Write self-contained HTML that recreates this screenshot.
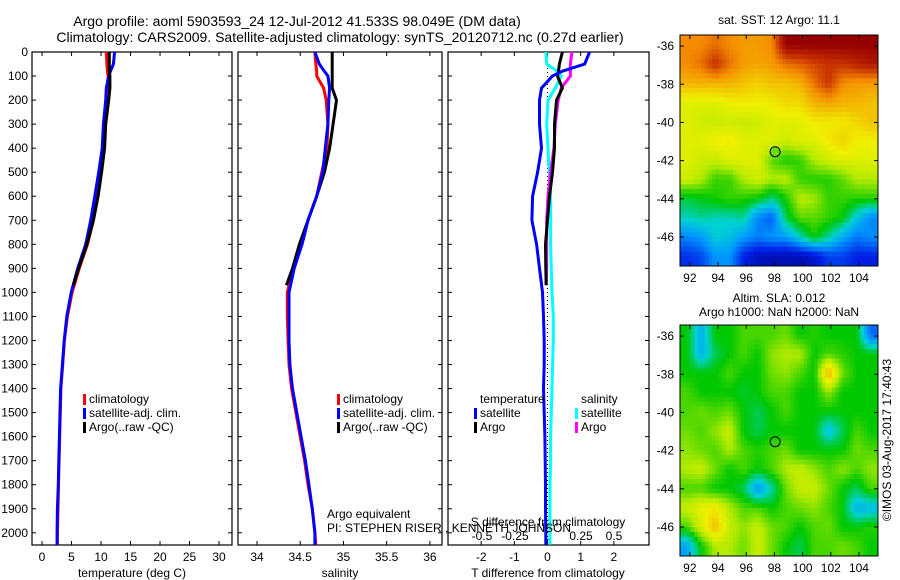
<!DOCTYPE html>
<html><head><meta charset="utf-8"><style>
html,body{margin:0;padding:0;background:#fff}
svg{display:block;font-family:"Liberation Sans",sans-serif}
text{fill:#000}
</style></head><body>
<svg id="c" width="900" height="580" viewBox="0 0 900 580">
<text x="297" y="26" font-size="14" text-anchor="middle">Argo profile: aoml 5903593_24 12-Jul-2012 41.533S 98.049E (DM data)</text>
<text x="340" y="42" font-size="14" text-anchor="middle">Climatology: CARS2009. Satellite-adjusted climatology: synTS_20120712.nc (0.27d earlier)</text>
<g id="plots"></g>
<text x="327" y="518" font-size="12">Argo equivalent</text>
<text x="327" y="532" font-size="12">PI: STEPHEN RISER , KENNETH JOHNSON</text>
<text x="779" y="24" font-size="12" text-anchor="middle">sat. SST: 12 Argo: 11.1</text>
<text x="779" y="302" font-size="12" text-anchor="middle">Altim. SLA: 0.012</text>
<text x="779" y="316" font-size="12" text-anchor="middle">Argo h1000: NaN h2000: NaN</text>
<text x="0" y="0" font-size="12" text-anchor="middle" transform="translate(891,440) rotate(-90)">©IMOS 03-Aug-2017 17:40:43</text>
</svg>
<script>
const depths=[0,50,80,100,150,200,300,400,500,600,700,800,900,1000,1100,1200,1300,1400,1500,1600,1700,1800,1900,2000,2050];
const argoDepths=[0,50,80,100,150,200,300,400,500,600,700,800,900,970];
const tClim=[10.9,11.0,11.1,11.2,11.1,11.0,10.6,10.4,9.9,9.4,8.7,7.7,6.3,5.1,4.3,3.8,3.5,3.2,3.1,3.0,2.9,2.8,2.7,2.6,2.6];
const tSat=[12.3,12.1,11.6,11.3,10.9,10.8,10.4,10.2,9.6,8.95,8.25,7.4,6.05,4.95,4.2,3.75,3.45,3.15,3.05,2.95,2.85,2.75,2.6,2.55,2.55];
const tArgo=[11.4,11.4,11.4,11.5,11.5,11.3,10.8,10.6,10.1,9.5,8.7,7.6,6.2,5.3];
const sClim=[34.67,34.68,34.69,34.69,34.77,34.80,34.82,34.81,34.75,34.69,34.59,34.52,34.42,34.35,34.35,34.36,34.37,34.40,34.45,34.50,34.55,34.59,34.64,34.67,34.68];
const sSat=[34.67,34.72,34.78,34.82,34.84,34.83,34.82,34.79,34.76,34.69,34.59,34.52,34.43,34.37,34.37,34.37,34.38,34.41,34.46,34.51,34.56,34.60,34.64,34.67,34.67];
const sArgo=[34.87,34.87,34.87,34.87,34.87,34.92,34.88,34.84,34.78,34.69,34.59,34.49,34.41,34.34];
const dTsat=[1.27,1.12,0.45,0.15,-0.18,-0.24,-0.24,-0.18,-0.3,-0.45,-0.47,-0.33,-0.24,-0.15,-0.12,-0.1,-0.1,-0.12,-0.1,-0.08,-0.07,-0.06,-0.06,-0.05,-0.05];
const dSsat=[-0.015,-0.01,0.07,0.1,0.055,0.0,-0.01,0.0,0.01,0.02,0.02,0.02,0.025,0.03,0.04,0.04,0.035,0.03,0.025,0.02,0.02,0.015,0.015,0.015,0.015];
const dTargo=[0.45,0.36,0.33,0.3,0.45,0.27,0.21,0.21,0.15,0.06,0.0,-0.06,-0.05,-0.04];
const dSargo=[0.18,0.17,0.17,0.17,0.1,0.077,0.055,0.045,0.02,0.0,-0.01,-0.01,-0.01,-0.015];
const depthTicks=[0,100,200,300,400,500,600,700,800,900,1000,1100,1200,1300,1400,1500,1600,1700,1800,1900,2000];
const tTicks=[0,5,10,15,20,25,30];
const sTicks=[34,34.5,35,35.5,36];
const dTTicks=[-2,-1,0,1,2];
const dSTicks=["-0.5","-0.25","0","0.25","0.5"];
const lonTicks=[92,94,96,98,100,102,104];
const latTicks=[-36,-38,-40,-42,-44,-46];
const sstGrid=[
[13.5,13.5,13.8,13.5,13.3,13.3,13.5,15.5,15.5,15.5,15.5,15.5,15.5,15.5],
[13.5,13.8,14.6,13.8,13.3,13.2,13.3,13.8,14.0,14.3,14.5,14.5,14.8,15.0],
[13.0,13.0,13.0,13.0,12.8,12.6,12.8,12.8,13.0,13.8,14.5,13.5,13.3,13.3],
[12.0,12.0,12.0,12.2,12.3,12.2,12.3,12.5,12.5,13.0,13.2,13.0,13.0,12.8],
[12.0,11.8,11.7,11.8,11.7,11.8,12.0,12.0,12.0,12.3,12.3,12.3,12.5,12.8],
[12.0,12.0,12.2,12.3,12.0,12.0,12.0,11.8,12.0,12.0,12.3,12.6,12.2,12.2],
[12.0,11.8,11.7,12.0,12.0,12.0,11.0,10.6,10.8,11.5,11.8,12.0,12.0,12.0],
[11.8,11.5,10.8,10.8,11.5,11.8,11.5,11.6,10.8,10.7,10.7,11.0,11.5,11.5],
[10.2,10.4,10.6,10.8,10.7,10.5,9.9,10.6,11.6,11.4,10.8,10.8,10.7,10.7],
[9.6,9.8,9.6,9.6,9.8,8.3,7.8,10.2,11.0,11.0,10.8,10.5,9.3,8.3],
[8.3,8.6,9.4,9.2,8.6,8.2,8.5,8.6,9.6,10.6,9.8,8.8,8.1,8.4],
[7.2,7.5,8.5,8.5,7.0,6.4,6.3,6.3,6.3,6.6,7.4,7.4,7.0,7.0]];
const slaGrid=[
[0,-0.08,0,0,0.02,0.02,0.02,0.03,0,0.01,0,0,0,-0.13],
[0,-0.08,-0.02,0,0.02,0,0.04,0.05,0.05,0,0.02,0.01,0,0],
[0,0,0,0.02,0,0,0.03,0.04,0.02,0,0.13,0.03,0,0],
[0.02,0,0,0,-0.01,0,0.02,0.02,0,0,0.04,0,0,0],
[0.02,0.03,0.02,0.03,0,-0.02,0,0.02,0,0,0,0,0,0],
[0.03,0.02,0.04,0.06,0,-0.02,0,0,0,0,-0.07,-0.02,0.02,0],
[0.04,0.03,0.02,0.05,0.02,0.01,0.02,0.03,0,0,0,0,0.03,0.02],
[0.05,0.06,0.03,0,0.02,0,0.02,0.05,0.06,0.04,0.02,0.04,0.02,0.04],
[0.02,0.02,0,0,-0.02,-0.1,-0.04,0.03,0.06,0.06,0.03,0,-0.02,0.02],
[0.06,0.08,0.09,0.05,0.02,0.02,0,0.02,0.03,0.04,0.02,0,-0.08,-0.07],
[0.02,0.07,0.12,0.06,0.04,0.06,0.03,0.02,0,0.02,0.03,0,0,0.01],
[-0.09,0,0.05,0.05,0.03,0.06,0.03,0,-0.02,0.02,0.02,0.03,0.02,0]];
const argoLon=98.049, argoLat=-41.533;

const NS="http://www.w3.org/2000/svg";
const root=document.getElementById('plots');
function mk(tag,attrs,parent){const e=document.createElementNS(NS,tag);for(const k in attrs)e.setAttribute(k,attrs[k]);(parent||root).appendChild(e);return e;}
function txt(x,y,s,size,anchor,parent){const t=mk('text',{x:x,y:y,'font-size':size,'text-anchor':anchor||'start'},parent);t.textContent=s;return t;}

const PT=52,PB=545;
const yD=d=>PT+d*0.2404;
const panels=[{x0:32,x1:232,vmin:-1.7,vmax:32.2,name:'temperature-panel'},{x0:238,x1:442,vmin:33.78,vmax:36.14,name:'salinity-panel'},{x0:448,x1:649,vmin:-3.0,vmax:3.06,name:'difference-panel'}];
function sx(p,v){return p.x0+(v-p.vmin)/(p.vmax-p.vmin)*(p.x1-p.x0);}
const xT=v=>sx(panels[0],v), xS=v=>sx(panels[1],v), xDT=v=>sx(panels[2],v), xDS=v=>548+v*132;

panels.forEach((p,i)=>{
  const g=mk('g',{});
  
  
  const r=mk('rect',{x:p.x0,y:PT,width:p.x1-p.x0,height:PB-PT,fill:'none',stroke:'#000','stroke-width':1.2},g);
  
  
  depthTicks.forEach(d=>{
    mk('line',{x1:p.x0,x2:p.x0+4,y1:yD(d),y2:yD(d),stroke:'#000'},g);
    mk('line',{x1:p.x1,x2:p.x1-4,y1:yD(d),y2:yD(d),stroke:'#000'},g);
  });
});
depthTicks.forEach(d=>{const t=txt(28,yD(d)+4,String(d),12,'end');});
function xticks(p,ticks,fx){ticks.forEach(v=>{const x=fx(v);mk('line',{x1:x,x2:x,y1:PB,y2:PB-4,stroke:'#000'});mk('line',{x1:x,x2:x,y1:PT,y2:PT+4,stroke:'#000'});const t=txt(x,561,String(v),12,'middle');});}
xticks(panels[0],tTicks,xT);xticks(panels[1],sTicks,xS);xticks(panels[2],dTTicks,xDT);
dSTicks.forEach(v=>{const t=txt(xDS(parseFloat(v)),540,v,12,'middle');});
[['temperature (deg C)',132,'temperature-axis-title'],['salinity',340,'salinity-axis-title'],['T difference from climatology',548,'t-diff-axis-title']].forEach(a=>{const t=txt(a[1],577,a[0],12,'middle');});
const sdt=txt(548,526,'S difference from climatology',12,'middle');



const zl=mk('line',{x1:xDT(0),x2:xDT(0),y1:PT,y2:PB,stroke:'#000','stroke-dasharray':'1,3'});



function series(vals,ds,fx,color,name){
  const pts=vals.map((v,i)=>fx(v).toFixed(1)+','+yD(ds[i]).toFixed(1)).join(' ');
  const l=mk('polyline',{points:pts,fill:'none',stroke:color,'stroke-width':3,'stroke-linejoin':'miter'});
  
  
}
series(tClim,depths,xT,'#f00','temp-climatology-line');
series(tSat,depths,xT,'#00f','temp-satellite-line');
series(tArgo,argoDepths,xT,'#000','temp-argo-line');
series(sClim,depths,xS,'#f00','sal-climatology-line');
series(sArgo,argoDepths,xS,'#000','sal-argo-line');
series(sSat,depths,xS,'#00f','sal-satellite-line');
series(dSsat,depths,xDS,'#0ff','sdiff-satellite-line');
series(dSargo,argoDepths,xDS,'#f0f','sdiff-argo-line');
series(dTargo,argoDepths,xDT,'#000','tdiff-argo-line');
series(dTsat,depths,xDT,'#00f','tdiff-satellite-line');

function legend(x,y,items){items.forEach((it,i)=>{const g=mk('g',{});if(it[1])mk('rect',{x:x,y:y+i*14-9,width:3,height:11,fill:it[1]},g);txt(x+6,y+i*14,it[0],12,'start',g);});}
legend(83,403,[['climatology','#f00'],['satellite-adj. clim.','#00f'],['Argo(..raw -QC)','#000']]);
legend(337,403,[['climatology','#f00'],['satellite-adj. clim.','#00f'],['Argo(..raw -QC)','#000']]);
legend(474,403,[['temperature',null],['satellite','#00f'],['Argo','#000']]);
legend(575,403,[['salinity',null],['satellite','#0ff'],['Argo','#f0f']]);

const cmapStops=[[0,[0,0,130]],[0.15,[0,30,230]],[0.3,[0,150,255]],[0.4,[0,210,210]],[0.5,[0,200,0]],[0.6,[180,235,0]],[0.67,[240,240,0]],[0.8,[245,140,0]],[0.9,[200,50,0]],[1,[150,0,0]]];
function cmap(t){t=Math.max(0,Math.min(1,t));for(let k=1;k<cmapStops.length;k++){if(t<=cmapStops[k][0]){const a=cmapStops[k-1],b=cmapStops[k];const f=(t-a[0])/(b[0]-a[0]);return 'rgb('+a[1].map((c,m)=>Math.round(c+(b[1][m]-c)*f)).join(',')+')';}}return 'rgb(150,0,0)';}
function map(grid,top,vmin,vmax,name,filled){
  const g=mk('g',{});
  
  
  const L=680,R=878,B=top+231;
  const nr=grid.length,nc=grid[0].length,S=4;
  const sample=(fi,fj)=>{fi=Math.max(0,Math.min(nr-1,fi));fj=Math.max(0,Math.min(nc-1,fj));const i0=Math.floor(fi),j0=Math.floor(fj),i1=Math.min(nr-1,i0+1),j1=Math.min(nc-1,j0+1),a=fi-i0,b=fj-j0;return grid[i0][j0]*(1-a)*(1-b)+grid[i1][j0]*a*(1-b)+grid[i0][j1]*(1-a)*b+grid[i1][j1]*a*b;};
  const cw=(R-L)/(nc*S),ch=(B-top)/(nr*S);
  for(let i=0;i<nr*S;i++)for(let j=0;j<nc*S;j++){
    const v=sample((i+0.5)/S-0.5,(j+0.5)/S-0.5);
    const r=mk('rect',{x:(L+j*cw).toFixed(2),y:(top+i*ch).toFixed(2),width:(cw+0.5).toFixed(2),height:(ch+0.5).toFixed(2),fill:cmap((v-vmin)/(vmax-vmin))},g);
    
    
  }
  const lonMin=91.3,lonMax=105.35,latMax=-35.42,latMin=-47.52;
  const mx=lon=>L+(lon-lonMin)/(lonMax-lonMin)*(R-L);
  const my=lat=>top+(latMax-lat)/(latMax-latMin)*(B-top);
  mk('rect',{x:L,y:top,width:R-L,height:B-top,fill:'none',stroke:'#000'},g);
  lonTicks.forEach(v=>{mk('line',{x1:mx(v),x2:mx(v),y1:top,y2:top+4,stroke:'#000'},g);mk('line',{x1:mx(v),x2:mx(v),y1:B,y2:B-4,stroke:'#000'},g);txt(mx(v),B+16,String(v),12,'middle',g);});
  latTicks.forEach(v=>{mk('line',{x1:L,x2:L+4,y1:my(v),y2:my(v),stroke:'#000'},g);mk('line',{x1:R,x2:R-4,y1:my(v),y2:my(v),stroke:'#000'},g);txt(674,my(v)+4,String(v),12,'end',g);});
  const c=mk('circle',{cx:mx(argoLon),cy:my(argoLat),r:5,fill:filled?cmap((11.1-vmin)/(vmax-vmin)):'none',stroke:'#000','stroke-width':1},g);
  
  
}
map(sstGrid,35,5.5,15.5,'sst-map',true);
map(slaGrid,325,-0.25,0.25,'sla-map',false);
</script>
</body></html>
